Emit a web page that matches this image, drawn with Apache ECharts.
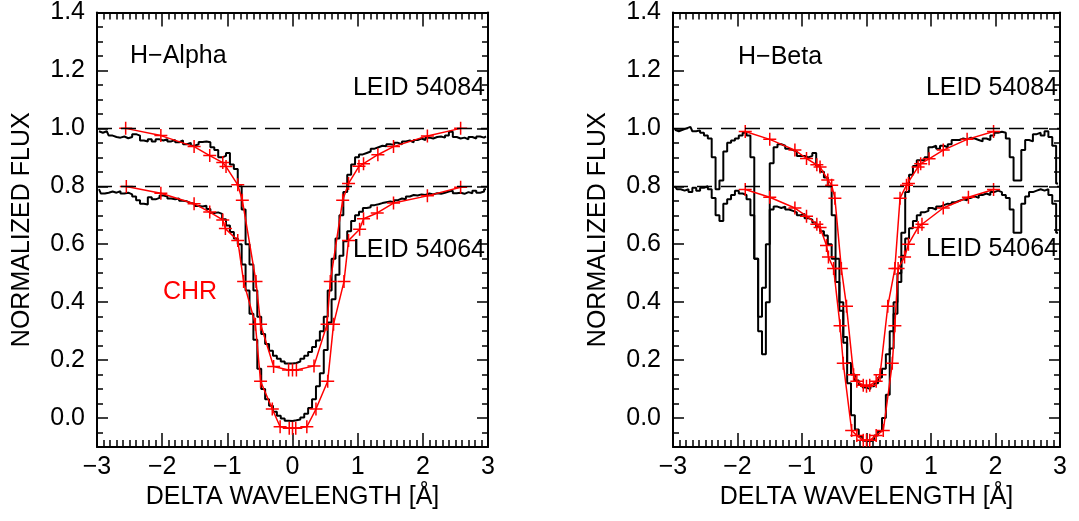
<!DOCTYPE html>
<html>
<head>
<meta charset="utf-8">
<script src="https://cdn.jsdelivr.net/npm/echarts@6/dist/echarts.min.js"></script>
<style>
  html, body { margin: 0; padding: 0; background: #fff; }
  #chart { width: 1079px; height: 521px; }
</style>
</head>
<body>
<div id="chart"></div>
<script>
// histogram bins (centres), delta wavelength in Angstrom
const BIN_START = -2.97
const BIN_STEP = 0.06

// H-alpha, LEID 54084 (continuum 1.0)
const haUpper = [
  0.99, 0.985, 0.99, 0.975, 0.97, 0.968, 0.972, 0.966, 0.97, 0.98,
  0.975, 0.958, 0.955, 0.962, 0.955, 0.962, 0.958, 0.963, 0.955, 0.96,
  0.952, 0.958, 0.945, 0.95, 0.94, 0.945, 0.953, 0.955, 0.952, 0.935,
  0.925, 0.90, 0.905, 0.915, 0.875, 0.86, 0.80, 0.72, 0.60, 0.53,
  0.44, 0.35, 0.29, 0.256, 0.232, 0.215, 0.205, 0.195, 0.188, 0.188,
  0.19, 0.195, 0.205, 0.215, 0.228, 0.245, 0.268, 0.30, 0.35, 0.44,
  0.55, 0.62, 0.70, 0.78, 0.84, 0.875, 0.90, 0.91, 0.915, 0.92,
  0.93, 0.935, 0.94, 0.938, 0.945, 0.943, 0.95, 0.945, 0.955, 0.958,
  0.952, 0.96, 0.965, 0.96, 0.968, 0.965, 0.97, 0.972, 0.968, 0.975,
  0.988, 0.97, 0.965, 0.968, 0.962, 0.97, 0.965, 0.972, 0.968, 0.972
]
// H-alpha, LEID 54064 (continuum 0.8)
const haLower = [
  0.79, 0.775, 0.778, 0.782, 0.778, 0.783, 0.775, 0.778, 0.772, 0.765,
  0.752, 0.74, 0.737, 0.762, 0.755, 0.76, 0.768, 0.765, 0.758, 0.755,
  0.758, 0.75, 0.748, 0.742, 0.74, 0.732, 0.73, 0.733, 0.722, 0.708,
  0.71, 0.705, 0.686, 0.665, 0.642, 0.62, 0.60, 0.53, 0.44, 0.36,
  0.27, 0.17, 0.10, 0.065, 0.042, 0.022, 0.008, -0.002, -0.009, -0.01,
  -0.008, -0.005, 0.002, 0.015, 0.035, 0.065, 0.11, 0.155, 0.235, 0.33,
  0.41, 0.495, 0.56, 0.61, 0.645, 0.68, 0.70, 0.712, 0.725, 0.728,
  0.735, 0.738, 0.742, 0.745, 0.748, 0.745, 0.752, 0.758, 0.755, 0.765,
  0.77, 0.768, 0.772, 0.77, 0.775, 0.772, 0.776, 0.774, 0.778, 0.782,
  0.785, 0.776, 0.778, 0.774, 0.78, 0.776, 0.785, 0.778, 0.782, 0.79
]
// H-beta, LEID 54084
const hbUpper = [
  0.995, 0.99, 0.995, 1.0, 1.005, 0.99, 0.993, 0.985, 0.975, 0.965,
  0.90, 0.79, 0.82, 0.92, 0.95, 0.958, 0.965, 0.975, 0.985, 0.975,
  0.90, 0.55, 0.30, 0.22, 0.40, 0.88, 0.935, 0.945, 0.94, 0.93,
  0.925, 0.92, 0.905, 0.905, 0.90, 0.905, 0.915, 0.87, 0.85, 0.83,
  0.80, 0.70, 0.55, 0.40, 0.28, 0.19, 0.15, 0.13, 0.115, 0.105,
  0.10, 0.11, 0.12, 0.14, 0.17, 0.22, 0.30, 0.40, 0.50, 0.64,
  0.78, 0.84, 0.87, 0.89, 0.89, 0.90, 0.935, 0.94, 0.93, 0.94,
  0.935, 0.945, 0.96, 0.96, 0.965, 0.962, 0.968, 0.965, 0.96, 0.955,
  0.965, 0.96, 0.975, 0.985, 0.988, 0.985, 0.965, 0.90, 0.82, 0.82,
  0.925, 0.96, 0.955, 0.98, 0.985, 0.975, 0.99, 0.97, 0.94, 0.81
]
// H-beta, LEID 54064
const hbLower = [
  0.80, 0.79, 0.785, 0.79, 0.78, 0.795, 0.785, 0.795, 0.80, 0.79,
  0.76, 0.70, 0.68, 0.74, 0.755, 0.77, 0.785, 0.775, 0.77, 0.755,
  0.70, 0.55, 0.35, 0.45, 0.60, 0.72, 0.73, 0.725, 0.73, 0.72,
  0.715, 0.71, 0.70, 0.705, 0.69, 0.685, 0.675, 0.66, 0.645, 0.63,
  0.60, 0.55, 0.47, 0.37, 0.26, 0.12, 0.01, -0.04, -0.065, -0.078,
  -0.08, -0.075, -0.06, -0.045, 0.0, 0.08, 0.24, 0.36, 0.47, 0.56,
  0.62, 0.655, 0.68, 0.70, 0.71, 0.715, 0.725, 0.72, 0.73, 0.735,
  0.74, 0.738, 0.745, 0.75, 0.755, 0.752, 0.76, 0.765, 0.76, 0.77,
  0.775, 0.77, 0.78, 0.785, 0.78, 0.77, 0.76, 0.72, 0.64, 0.64,
  0.74, 0.765, 0.78, 0.785, 0.79, 0.785, 0.79, 0.77, 0.74, 0.64
]

// CHR model points
const chrHaUpperX = [-2.56, -2.02, -1.51, -1.27, -1.07, -1.02, -0.84, -0.77, -0.56, -0.49, -0.29, -0.06, 0.0, 0.06, 0.33, 0.53, 0.58, 0.77, 0.86, 1.02, 1.09, 1.31, 1.55, 2.07, 2.58]
const chrHaUpperY = [1.0, 0.975, 0.937, 0.906, 0.882, 0.868, 0.805, 0.752, 0.471, 0.324, 0.178, 0.166, 0.166, 0.166, 0.18, 0.324, 0.471, 0.752, 0.81, 0.869, 0.878, 0.909, 0.937, 0.974, 1.0]
const chrHaLowerX = [-2.55, -2.02, -1.51, -1.27, -1.07, -1.03, -0.84, -0.75, -0.57, -0.49, -0.31, -0.19, -0.05, 0.0, 0.05, 0.22, 0.36, 0.54, 0.63, 0.79, 0.86, 1.03, 1.09, 1.30, 1.55, 2.07, 2.58]
const chrHaLowerY = [0.799, 0.776, 0.74, 0.711, 0.684, 0.654, 0.613, 0.471, 0.324, 0.127, 0.031, -0.03, -0.035, -0.035, -0.035, -0.03, 0.031, 0.127, 0.324, 0.471, 0.613, 0.652, 0.688, 0.708, 0.742, 0.767, 0.797]
const chrHbUpperX = [-1.88, -1.50, -1.11, -0.93, -0.77, -0.72, -0.60, -0.54, -0.49, -0.39, -0.31, -0.2, -0.15, -0.05, 0.0, 0.05, 0.15, 0.21, 0.33, 0.44, 0.52, 0.62, 0.65, 0.80, 0.84, 0.97, 1.19, 1.56, 1.97]
const chrHbUpperY = [0.989, 0.962, 0.925, 0.896, 0.874, 0.867, 0.822, 0.804, 0.759, 0.516, 0.386, 0.149, 0.127, 0.113, 0.11, 0.113, 0.127, 0.149, 0.386, 0.516, 0.759, 0.804, 0.81, 0.867, 0.878, 0.895, 0.925, 0.962, 0.989]
const chrHbLowerX = [-1.88, -1.50, -1.11, -0.93, -0.77, -0.72, -0.62, -0.59, -0.51, -0.41, -0.36, -0.23, -0.15, -0.05, 0.0, 0.05, 0.15, 0.26, 0.40, 0.44, 0.49, 0.59, 0.65, 0.80, 0.86, 1.19, 1.58, 1.97]
const chrHbLowerY = [0.789, 0.762, 0.725, 0.697, 0.669, 0.658, 0.596, 0.556, 0.516, 0.319, 0.189, -0.043, -0.06, -0.077, -0.077, -0.077, -0.06, -0.043, 0.189, 0.319, 0.516, 0.556, 0.60, 0.658, 0.669, 0.725, 0.762, 0.789]

const continuumLevels = [1.0, 0.8]
const yMajorTicks = [0.0, 0.2, 0.4, 0.6, 0.8, 1.0, 1.2, 1.4]
const Y_MIN = -0.1
const Y_MAX = 1.4

const FONT = 'Liberation Sans, Arial, Helvetica, sans-serif'
const FS = 25

const yMinorTicks = []
for (let k = -2; k <= 28; k++) yMinorTicks.push(+(k * 0.05).toFixed(2))

const toBins = arr => arr.map((f, i) => [BIN_START + BIN_STEP * i, f])
const zip = (xs, ys) => xs.map((x, i) => [x, ys[i]])
const minus = v => (v < 0 ? '\u2212' + Math.abs(v) : String(v))

const PLUS = 'path://M0,-10L0,10M-10,0L10,0'

function xAxes(gridIndex) {
  const base = {
    gridIndex, type: 'value', min: -3, max: 3, interval: 1,
    axisLine: { show: true, onZero: false, lineStyle: { color: '#000', width: 2 } },
    axisTick: { show: true, inside: true, length: 14, lineStyle: { color: '#000', width: 1.5 } },
    minorTick: { show: true, splitNumber: 10, length: 7, lineStyle: { color: '#000', width: 1.5 } },
    splitLine: { show: false },
    minorSplitLine: { show: false }
  }
  return [
    Object.assign({}, base, {
      position: 'bottom',
      axisLabel: { color: '#000', fontSize: FS, fontFamily: FONT, margin: 8, formatter: minus },
      name: 'DELTA WAVELENGTH [\u00c5]', nameLocation: 'middle', nameGap: 37,
      nameTextStyle: { color: '#000', fontSize: FS, fontFamily: FONT }
    }),
    Object.assign({}, base, { position: 'top', axisLabel: { show: false } })
  ]
}

function yAxes(gridIndex) {
  const base = {
    gridIndex, type: 'value', min: Y_MIN, max: Y_MAX,
    splitLine: { show: false }
  }
  const line = { show: true, onZero: false, lineStyle: { color: '#000', width: 2 } }
  const noLine = { show: false, onZero: false }
  return [
    Object.assign({}, base, {
      position: 'left',
      axisLine: line,
      axisTick: { show: true, inside: true, length: 11, customValues: yMajorTicks, lineStyle: { color: '#000', width: 1.5 } },
      axisLabel: { color: '#000', fontSize: FS, fontFamily: FONT, margin: 12, customValues: yMajorTicks, formatter: v => v.toFixed(1) },
      name: 'NORMALIZED FLUX', nameLocation: 'middle', nameGap: 62, nameRotate: 90,
      nameTextStyle: { color: '#000', fontSize: FS, fontFamily: FONT }
    }),
    Object.assign({}, base, {
      position: 'left',
      axisLine: noLine,
      axisTick: { show: true, inside: true, length: 6, customValues: yMinorTicks, lineStyle: { color: '#000', width: 1.5 } },
      axisLabel: { show: false }
    }),
    Object.assign({}, base, {
      position: 'right',
      axisLine: line,
      axisTick: { show: true, inside: true, length: 11, customValues: yMajorTicks, lineStyle: { color: '#000', width: 1.5 } },
      axisLabel: { show: false }
    }),
    Object.assign({}, base, {
      position: 'right',
      axisLine: noLine,
      axisTick: { show: true, inside: true, length: 6, customValues: yMinorTicks, lineStyle: { color: '#000', width: 1.5 } },
      axisLabel: { show: false }
    })
  ]
}

function panelSeries(xIdx, yIdx, upper, lower, chrUpper, chrLower) {
  const hist = (data, withRefs) => ({
    type: 'line', xAxisIndex: xIdx, yAxisIndex: yIdx, data: toBins(data),
    step: 'middle', symbol: 'none', silent: true, clip: true, z: 3,
    lineStyle: { color: '#000', width: 2 },
    markLine: withRefs ? {
      silent: true, symbol: 'none', label: { show: false },
      lineStyle: { color: '#000', width: 1.3, type: [15, 9] },
      data: continuumLevels.map(v => ({ yAxis: v }))
    } : undefined
  })
  const chr = data => ({
    type: 'line', xAxisIndex: xIdx, yAxisIndex: yIdx, data,
    symbol: PLUS, symbolSize: 13, silent: true, z: 4,
    lineStyle: { color: '#ff0000', width: 1.5 },
    itemStyle: { color: '#ff0000', borderColor: '#ff0000', borderWidth: 1.5 }
  })
  return [hist(upper, true), hist(lower, false), chr(chrUpper), chr(chrLower)]
}

const label = (text, x, y, align, color) => ({
  type: 'text', x, y,
  style: { text, fill: color || '#000', font: FS + 'px ' + FONT, textAlign: align || 'left', textVerticalAlign: 'middle' }
})

const chart = echarts.init(document.getElementById('chart'), null, { renderer: 'canvas' })
chart.setOption({
  animation: false,
  backgroundColor: '#fff',
  grid: [
    { left: 97, top: 6, width: 391, height: 441 },
    { left: 673, top: 6, width: 387, height: 441 }
  ],
  xAxis: [...xAxes(0), ...xAxes(1)],
  yAxis: [...yAxes(0), ...yAxes(1)],
  series: [
    ...panelSeries(0, 0, haUpper, haLower, zip(chrHaUpperX, chrHaUpperY), zip(chrHaLowerX, chrHaLowerY)),
    ...panelSeries(2, 4, hbUpper, hbLower, zip(chrHbUpperX, chrHbUpperY), zip(chrHbLowerX, chrHbLowerY))
  ],
  graphic: [
    label('H\u2212Alpha', 130, 56),
    label('LEID 54084', 485, 88, 'right'),
    label('LEID 54064', 485, 250, 'right'),
    label('CHR', 163, 292, 'left', '#ff0000'),
    label('H\u2212Beta', 738, 57),
    label('LEID 54084', 1058, 88, 'right'),
    label('LEID 54064', 1058, 249, 'right')
  ]
})
</script>
</body>
</html>
